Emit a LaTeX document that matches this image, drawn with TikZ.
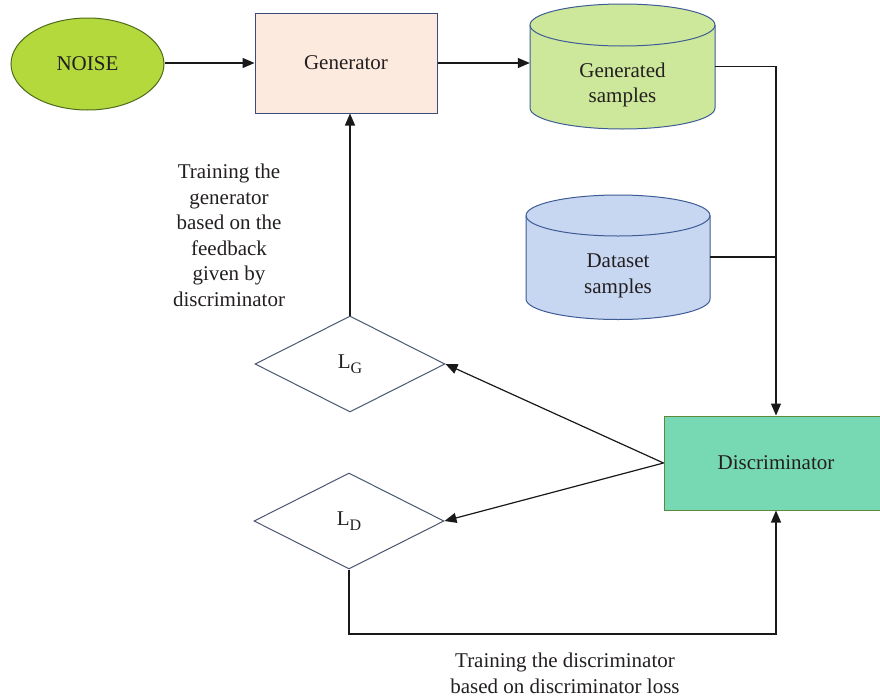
\documentclass[tikz,border=0pt]{standalone}
\usepackage{fontspec}
\setmainfont{Liberation Serif}
\usetikzlibrary{shapes.geometric,arrows.meta,calc}
\definecolor{txtc}{HTML}{231F20}
\definecolor{noisef}{HTML}{B3D93C}
\definecolor{noiseb}{HTML}{4E6B1E}
\definecolor{genf}{HTML}{FDEADF}
\definecolor{genb}{HTML}{3B4B7C}
\definecolor{gcylf}{HTML}{CDE89B}
\definecolor{dcylf}{HTML}{C7D6F1}
\definecolor{cylb}{HTML}{3E5C95}
\definecolor{discf}{HTML}{77D9B3}
\definecolor{discb}{HTML}{5B8A3C}
\definecolor{diab}{HTML}{4A5670}
\begin{document}
\begin{tikzpicture}[x=1pt,y=-1pt,
  font=\fontsize{21}{25.5}\selectfont,
  every node/.style={text=txtc},
  arr/.style={draw=black!90, line width=1.2pt, -{Triangle[length=12pt,width=10pt]}},
  ln/.style={draw=black!90, line width=1.2pt},
  shapeline/.style={line width=1pt},
  lossnode/.style={diamond, draw=diab, fill=white, shapeline, minimum width=190, minimum height=96, inner sep=0pt, aspect=2},
  cylbox/.style={rectangle, inner sep=0pt},
  txt/.style={align=center, inner sep=0pt}]
\useasboundingbox (0,0) rectangle (880,699);

% NOISE
\node[ellipse, draw=noiseb, fill=noisef, shapeline, minimum width=153, minimum height=92, inner sep=0pt] (noise) at (87.5,64) {NOISE};

% Generator
\node[rectangle, draw=genb, fill=genf, shapeline, minimum width=182, minimum height=100] (generator) at (346,63) {Generator};

% Generated samples cylinder
\node[cylbox, minimum width=185, minimum height=125] (gen) at (622.5,66.5) {};
\filldraw[fill=gcylf, draw=cylb, shapeline] (530,25) -- (530,108) arc[start angle=180, end angle=360, x radius=92.5pt, y radius=21pt] -- (715,25) arc[start angle=0, end angle=180, x radius=92.5pt, y radius=21pt] -- cycle;
\draw[draw=cylb, shapeline] (530,25) arc[start angle=180, end angle=360, x radius=92.5pt, y radius=21pt];
\node[txt] (gentxt) at (622.5,85) {Generated\\samples};

% Dataset samples cylinder
\node[cylbox, minimum width=184, minimum height=124] (data) at (618,257) {};
\filldraw[fill=dcylf, draw=cylb, shapeline] (526,215.5) -- (526,299) arc[start angle=180, end angle=360, x radius=92pt, y radius=20.5pt] -- (710,215.5) arc[start angle=0, end angle=180, x radius=92pt, y radius=20.5pt] -- cycle;
\draw[draw=cylb, shapeline] (526,215.5) arc[start angle=180, end angle=360, x radius=92pt, y radius=20.5pt];
\node[txt] (datatxt) at (618,276) {Dataset\\samples};

% Discriminator
\node[rectangle, draw=discb, fill=discf, shapeline, minimum width=224, minimum height=94] (disc) at (776,463) {Discriminator};

% Loss diamonds
\node[lossnode] (lg) at (350,364) {L\raisebox{-0.5ex}{\fontsize{16}{16}\selectfont G}};
\node[lossnode] (ld) at (349,521) {L\raisebox{-0.5ex}{\fontsize{16}{16}\selectfont D}};

% Texts
\node[txt] (fbtext) at (229,235.5) {Training the\\generator\\based on the\\feedback\\given by\\discriminator};
\node[txt] (dltext) at (565,673.5) {Training the discriminator\\based on discriminator loss};

% Connectors
\draw[arr] (noise.east |- generator.west) -- (generator.west);
\draw[arr] (generator.east) -- (generator.east -| gen.west);
\draw[arr] (gen.east) -| (disc.north);
\draw[ln] (data.east) -- (data.east -| disc.north);
\draw[arr] (disc.west) -- (lg.east);
\draw[arr] (disc.west) -- (ld.east);
\draw[arr] (lg.north) -- (lg.north |- generator.south);
\coordinate (dloop) at (776,634);
\draw[arr] (ld.south) |- (dloop) -- (disc.south);
\end{tikzpicture}
\end{document}
